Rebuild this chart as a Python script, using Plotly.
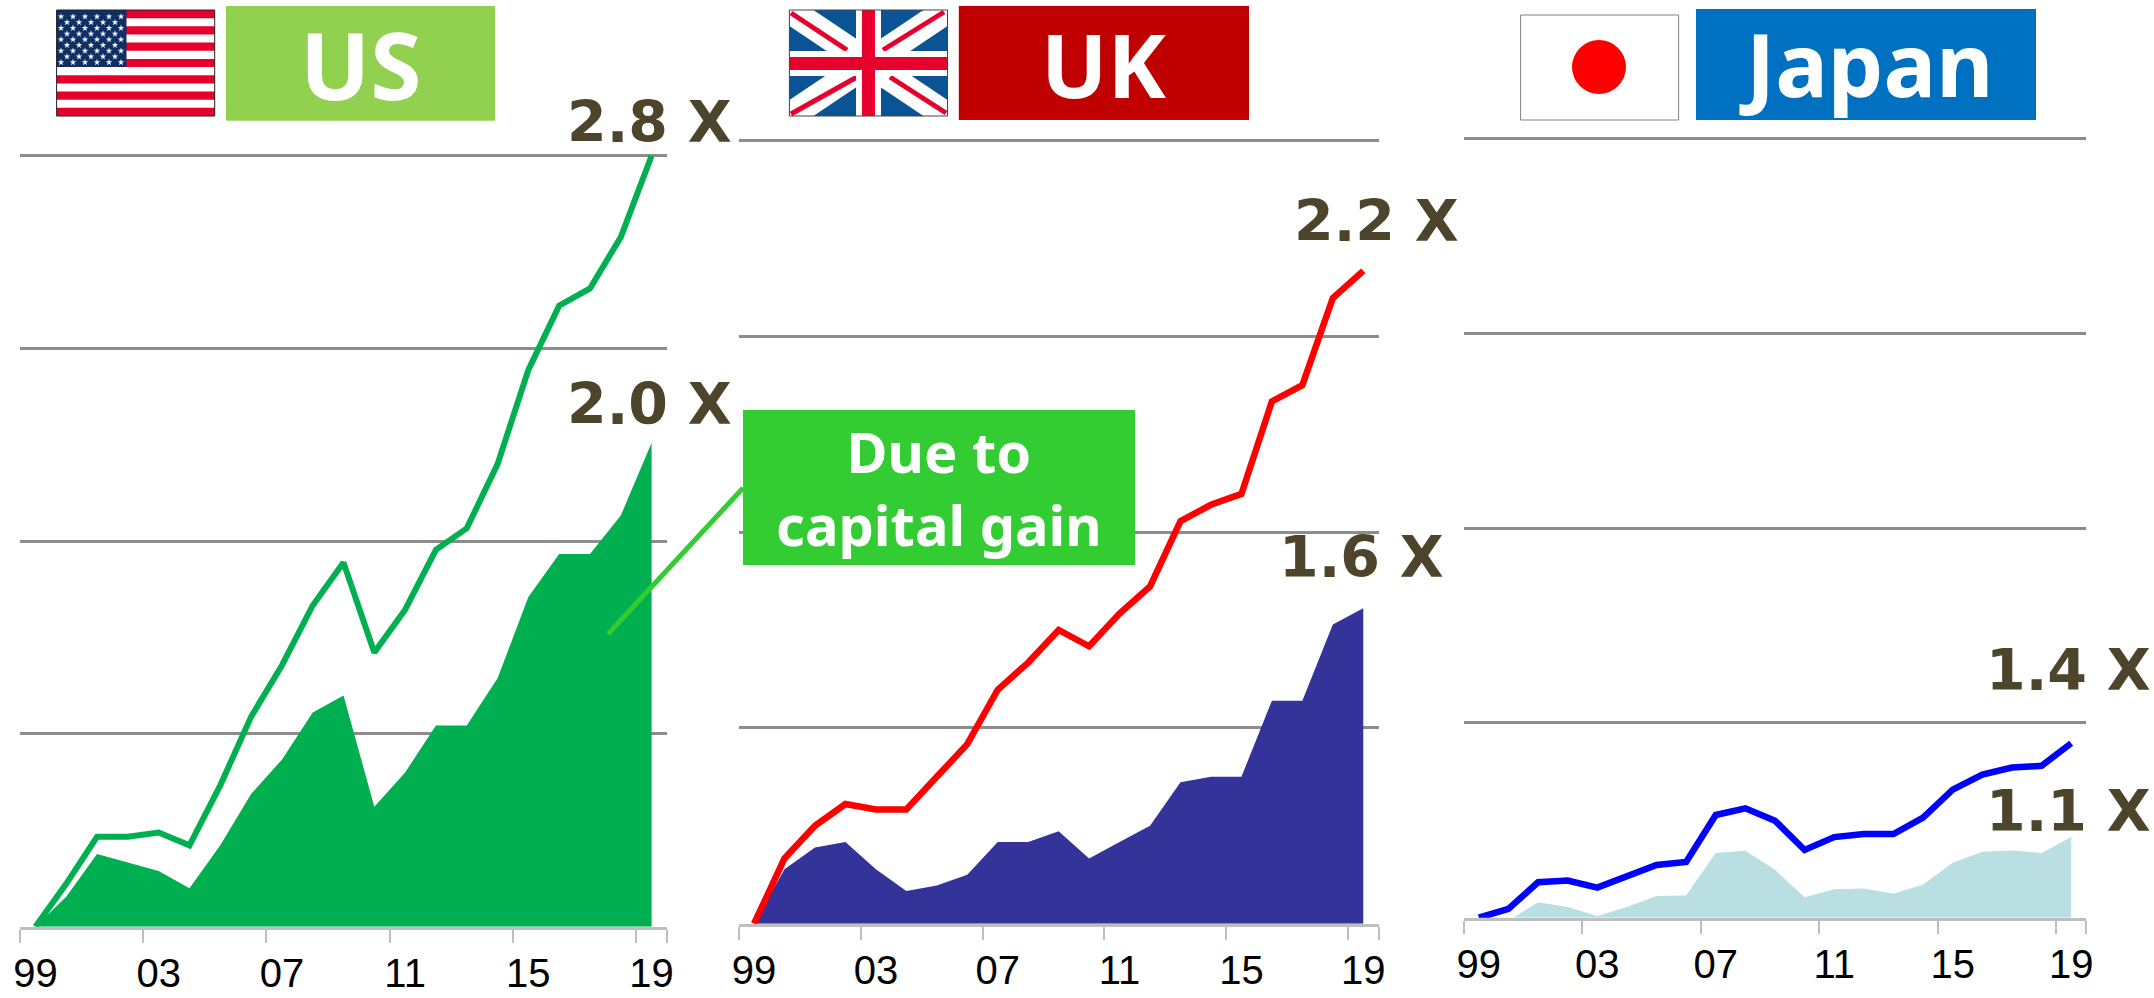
import plotly.graph_objects as go

W, H = 2154, 998

years = ["99", "00", "01", "02", "03", "04", "05", "06", "07", "08", "09",
         "10", "11", "12", "13", "14", "15", "16", "17", "18", "19"]
tick_years = ["99", "03", "07", "11", "15", "19"]

us_total = [1.00, 1.10, 1.21, 1.21, 1.22, 1.19, 1.33, 1.49, 1.61, 1.75, 1.85,
            1.64, 1.74, 1.88, 1.93, 2.08, 2.30, 2.45, 2.49, 2.61, 2.80]
us_capital = [1.00, 1.07, 1.17, 1.15, 1.13, 1.09, 1.19, 1.31, 1.39, 1.50, 1.54,
              1.28, 1.36, 1.47, 1.47, 1.58, 1.77, 1.87, 1.87, 1.96, 2.13]
uk_total = [1.00, 1.12, 1.18, 1.22, 1.21, 1.21, 1.27, 1.33, 1.43, 1.48, 1.54,
            1.51, 1.57, 1.62, 1.74, 1.77, 1.79, 1.96, 1.99, 2.15, 2.20]
uk_capital = [1.00, 1.10, 1.14, 1.15, 1.10, 1.06, 1.07, 1.09, 1.15, 1.15, 1.17,
              1.12, 1.15, 1.18, 1.26, 1.27, 1.27, 1.41, 1.41, 1.55, 1.58]
jp_total = [1.00, 1.02, 1.08, 1.084, 1.068, 1.093, 1.119, 1.126, 1.232, 1.247, 1.219,
            1.153, 1.182, 1.189, 1.189, 1.226, 1.289, 1.323, 1.339, 1.343, 1.394]
jp_capital = [1.00, 0.993, 1.035, 1.024, 1.004, 1.024, 1.049, 1.05, 1.146, 1.151, 1.108,
              1.046, 1.064, 1.066, 1.054, 1.075, 1.124, 1.149, 1.152, 1.146, 1.182]
baseline = [1.0] * 21

FONT = "Noto Sans"
LABEL_FONT = "DejaVu Sans"
LABEL = "#4c452c"

panels = [
    dict(total=us_total, capital=us_capital, line="#00b050", fill="#00b050",
         x0=20, x1=667, top=155.7, bottom=926.7, step=0.45, width=6),
    dict(total=uk_total, capital=uk_capital, line="#ff0000", fill="#333399",
         x0=738.8, x1=1378.5, top=140.3, bottom=923.7, step=0.36, width=6.5),
    dict(total=jp_total, capital=jp_capital, line="#0000ff", fill="#b9dfe3",
         x0=1464, x1=2086, top=138.3, bottom=917.7, step=0.44, width=6.5),
]

fig = go.Figure()
layout = {}
HEADROOM = 5  # pixels above the top gridline, so that Plotly keeps that gridline

for i, p in enumerate(panels, start=1):
    xa, ya = f"x{i}", f"y{i}"
    fig.add_trace(go.Scatter(x=years, y=baseline, xaxis=xa, yaxis=ya, mode="lines",
                             line=dict(width=0), hoverinfo="skip", cliponaxis=False))
    fig.add_trace(go.Scatter(x=years, y=p["capital"], xaxis=xa, yaxis=ya, mode="lines",
                             line=dict(width=0), fill="tonexty", fillcolor=p["fill"],
                             cliponaxis=False))
    fig.add_trace(go.Scatter(x=years, y=p["total"], xaxis=xa, yaxis=ya, mode="lines",
                             line=dict(color=p["line"], width=p["width"]), cliponaxis=False))
    px_per_step = (p["bottom"] - p["top"]) / 4
    layout[f"xaxis{i}"] = dict(
        type="category", domain=[p["x0"] / W, p["x1"] / W], anchor=ya,
        categoryorder="array", categoryarray=years,
        range=[-0.5, 20.5], tickmode="array", tickvals=tick_years, ticktext=tick_years,
        tickson="boundaries", ticks="outside", ticklen=13, tickwidth=2, tickcolor="#bfbfbf",
        showline=True, linecolor="#bfbfbf", linewidth=3, showgrid=False, zeroline=False,
        tickangle=0, ticklabelstandoff=9,
        tickfont=dict(family="Liberation Sans", size=40, color="#000000"),
    )
    layout[f"yaxis{i}"] = dict(
        domain=[1 - p["bottom"] / H, 1 - (p["top"] - HEADROOM) / H], anchor=xa,
        range=[1, 1 + 4 * p["step"] + HEADROOM / px_per_step * p["step"]],
        tick0=1, dtick=p["step"],
        showticklabels=False, ticks="", showline=False, zeroline=False,
        showgrid=True, gridcolor="#8c8c8c", gridwidth=2.5,
    )

# Canvas axes in page pixels for the headers, flags and callout
layout["xaxis4"] = dict(domain=[0, 1], range=[0, W], visible=False, anchor="y4", fixedrange=True)
layout["yaxis4"] = dict(domain=[0, 1], range=[H, 0], visible=False, anchor="x4", fixedrange=True)

shapes, annotations = [], []


def rect(x0, y0, x1, y1, fill, line=None, layer="below", lw=1):
    shapes.append(dict(type="rect", xref="x4", yref="y4", x0=x0, y0=y0, x1=x1, y1=y1,
                       fillcolor=fill, layer=layer,
                       line=dict(color=line, width=lw) if line else dict(width=0)))


def seg(x0, y0, x1, y1, color, w, layer="below"):
    shapes.append(dict(type="line", xref="x4", yref="y4", x0=x0, y0=y0, x1=x1, y1=y1,
                       layer=layer, line=dict(color=color, width=w)))


def poly(pts, fill):
    d = "M " + " L ".join(f"{x},{y}" for x, y in pts) + " Z"
    shapes.append(dict(type="path", xref="x4", yref="y4", path=d, fillcolor=fill,
                       layer="below", line=dict(width=0)))


def text(x, y, s, size, color, anchor="left", family=FONT):
    annotations.append(dict(xref="x4", yref="y4", x=x, y=y, text=s, showarrow=False,
                            xanchor=anchor, yanchor="middle", borderpad=0,
                            font=dict(family=family, size=size, color=color, weight="bold")))


# Headers
rect(226, 6, 495, 120.7, "#92d050")
text(360.5, 64, "US", 93, "#ffffff", "center")
rect(958.8, 6, 1249, 120, "#c00000")
text(1104, 64, "UK", 88, "#ffffff", "center")
rect(1696, 9, 2036, 120, "#0070c0")
text(1866, 63, "Japan", 88, "#ffffff", "center")

# US flag
fx0, fx1, fy0, fy1 = 56.6, 214.7, 10, 116
sh = (fy1 - fy0) / 13
rect(fx0, fy0, fx1, fy1, "#ffffff")
for k in range(0, 13, 2):
    rect(fx0, fy0 + k * sh, fx1, fy0 + (k + 1) * sh, "#e8002d")
rect(fx0, fy0, 126.5, fy0 + 7 * sh, "#0d2f63")
rect(fx0, fy0, fx1, fy1, "rgba(0,0,0,0)", "#222222")
star_x, star_y = [], []
for r in range(9):
    yy = 16.7 + r * 5.7
    if r % 2 == 0:
        cols = [61 + 12 * c for c in range(6)]
    else:
        cols = [67 + 12 * c for c in range(5)]
    for xx in cols:
        star_x.append(xx)
        star_y.append(yy)
fig.add_trace(go.Scatter(x=star_x, y=star_y, xaxis="x4", yaxis="y4", mode="markers",
                         marker=dict(symbol="star", size=5, color="#f4f4ff"), hoverinfo="skip"))

# UK flag
ux0, ux1, uy0, uy1 = 789.4, 947.5, 10, 116
ucx, ucy = 868.5, 63.5
rect(ux0, uy0, ux1, uy1, "#0a5496")
a, b = 24, 16
poly([(ux0, uy0), (ux0 + a, uy0), (ux1, uy1 - b), (ux1, uy1), (ux1 - a, uy1), (ux0, uy0 + b)], "#ffffff")
poly([(ux1, uy0), (ux1, uy0 + b), (ux0 + a, uy1), (ux0, uy1), (ux0, uy1 - b), (ux1 - a, uy0)], "#ffffff")
seg(791, 13, 847, 50, "#e8002d", 5)
seg(883, 50, 944, 12, "#e8002d", 5)
seg(791, 114, 857, 77, "#e8002d", 5)
seg(890, 77, 946, 113, "#e8002d", 5)
rect(ucx - 12.5, uy0, ucx + 12.5, uy1, "#ffffff")
rect(ux0, ucy - 12.5, ux1, ucy + 12.5, "#ffffff")
rect(ucx - 6.5, uy0, ucx + 6.5, uy1, "#e8002d")
rect(ux0, ucy - 6.5, ux1, ucy + 6.5, "#e8002d")
rect(ux0, uy0, ux1, uy1, "rgba(0,0,0,0)", "#444444")

# Japan flag
rect(1520.6, 15, 1678.6, 120, "#ffffff", "#808080")
shapes.append(dict(type="circle", xref="x4", yref="y4", x0=1572, x1=1626, y0=40, y1=94,
                   fillcolor="#ff0000", layer="below", line=dict(width=0)))

# Callout
seg(608, 634, 743, 488, "#33cc33", 5, layer="above")
rect(743, 410, 1135, 565, "#33cc33", layer="above")
text(939, 487, "Due to<br>capital gain", 56, "#ffffff", "center")

# Multiples
for x, y, s in [(566, 122, "2.8 X"), (566, 404, "2.0 X"),
                (1293, 221, "2.2 X"), (1278, 557, "1.6 X"),
                (1985, 670, "1.4 X"), (1985, 811, "1.1 X")]:
    text(x, y, s, 57, LABEL, family=LABEL_FONT)

fig.update_layout(width=W, height=H, margin=dict(l=0, r=0, t=0, b=0, autoexpand=False),
                  paper_bgcolor="#ffffff", plot_bgcolor="rgba(0,0,0,0)",
                  showlegend=False, shapes=shapes, annotations=annotations, **layout)

fig.write_html("out.html", config=dict(displayModeBar=False),
               post_script="document.body.style.margin='0';document.body.style.overflow='hidden';")
